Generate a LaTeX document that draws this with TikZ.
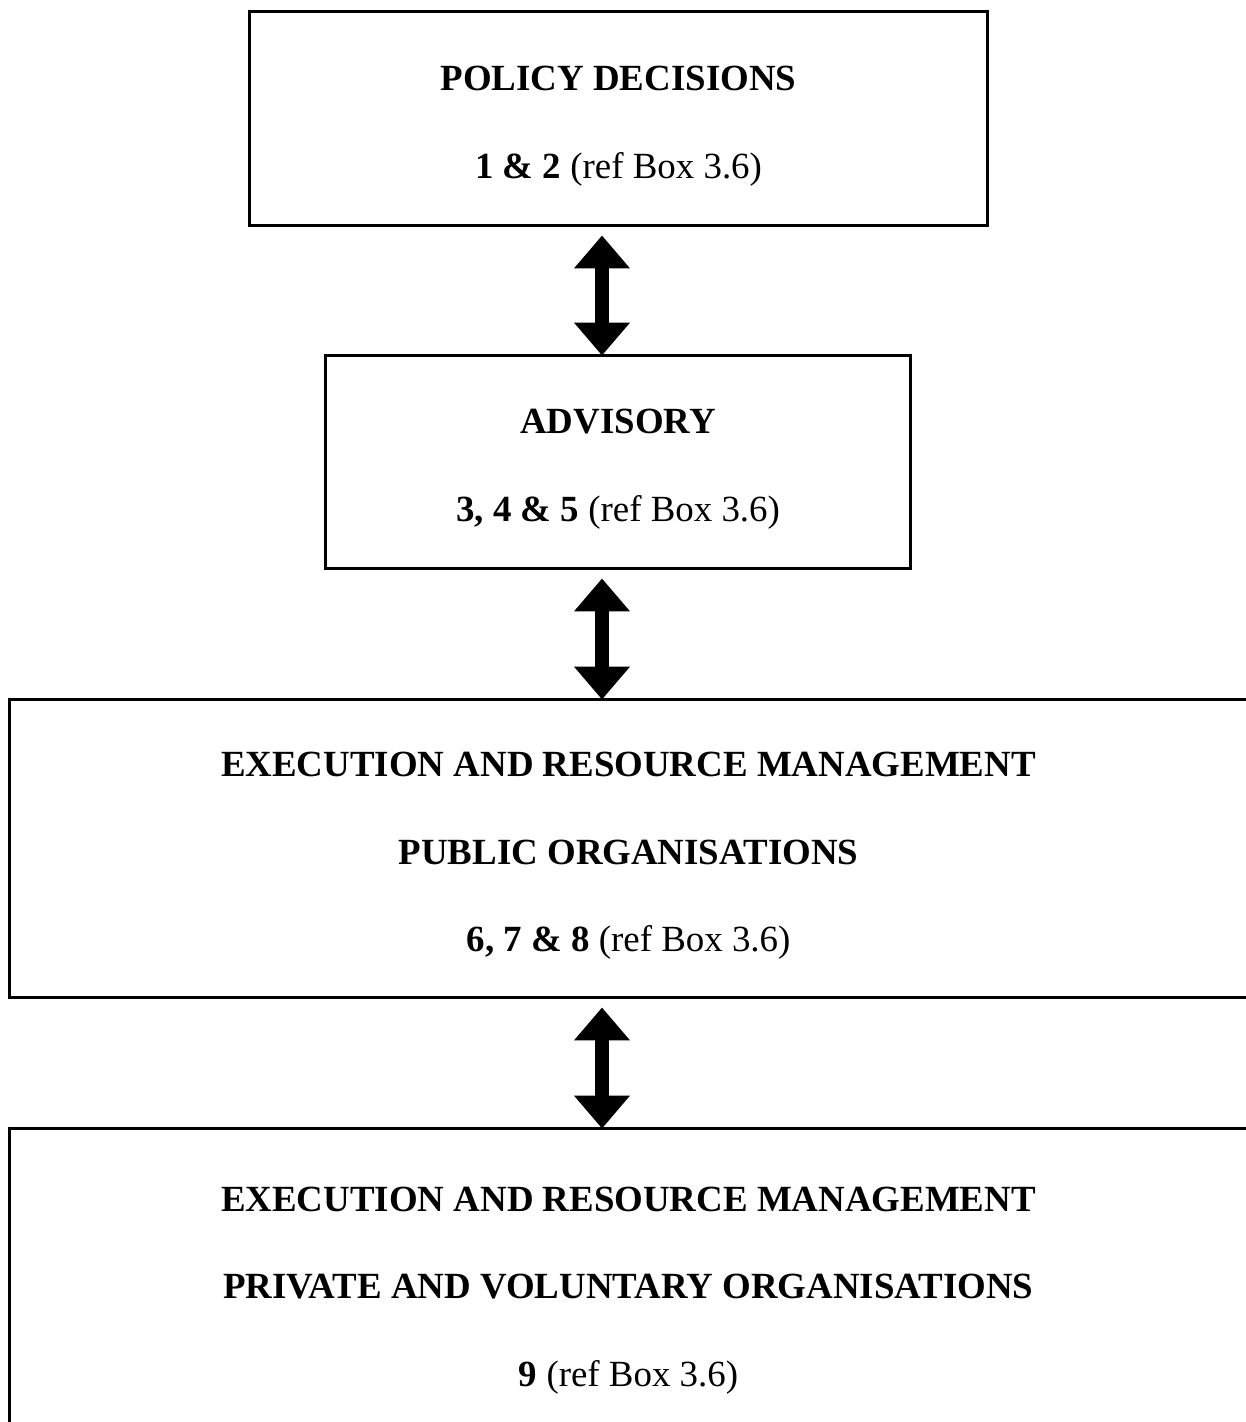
\documentclass[tikz,border=0pt]{standalone}
\usepackage{fontspec}
\setmainfont{Liberation Serif}
\usetikzlibrary{arrows.meta}

\begin{document}
\begin{tikzpicture}[x=0.02cm,y=0.02cm,
	box/.style={draw=black, line width=1.7pt, inner sep=0pt},
	txt/.style={inner sep=0pt, align=center, font=\fontsize{21}{49.9}\selectfont},
	bigarrow/.style={line width=8.5pt,
		{Triangle[width=30.6pt,length=18.7pt]}-{Triangle[width=30.6pt,length=18.7pt]},
		shorten <=0.16cm, shorten >=-0.04cm}]
				\useasboundingbox (0,0) rectangle (1246,-1422);
				\clip (0,0) rectangle (1246,-1422);
				
				\node[box, minimum width=14.78cm, minimum height=4.3cm] (pol) at (618.5,-118.5) {};
				\node[txt] (polt) at ([yshift=-0.15cm]pol.center)
					{\textbf{POLICY DECISIONS}\\\textbf{1 \& 2} (ref Box 3.6)};
				
				\node[box, minimum width=11.72cm, minimum height=4.28cm] (adv) at (618,-462) {};
				\node[txt] (advt) at ([yshift=-0.15cm]adv.center)
					{\textbf{ADVISORY}\\\textbf{3, 4 \& 5} (ref Box 3.6)};
				
				\node[box, minimum width=24.78cm, minimum height=5.98cm] (pub) at (628.5,-848.5) {};
				\node[txt] (pubt) at ([yshift=-0.15cm]pub.center)
					{\textbf{EXECUTION AND RESOURCE MANAGEMENT}\\\textbf{PUBLIC ORGANISATIONS}\\\textbf{6, 7 \& 8} (ref Box 3.6)};
				
				\node[box, minimum width=24.78cm, minimum height=6.2cm] (priv) at (628.5,-1283) {};
				\node[txt] (privt) at ([yshift=-0.15cm]priv.center)
					{\textbf{EXECUTION AND RESOURCE MANAGEMENT}\\\textbf{PRIVATE AND VOLUNTARY ORGANISATIONS}\\\textbf{9} (ref Box 3.6)};
				
				\draw[bigarrow] (602,0 |- pol.south) -- (602,0 |- adv.north);
				\draw[bigarrow] (602,0 |- adv.south) -- (602,0 |- pub.north);
				\draw[bigarrow] (602,0 |- pub.south) -- (602,0 |- priv.north);
\end{tikzpicture}
\end{document}
